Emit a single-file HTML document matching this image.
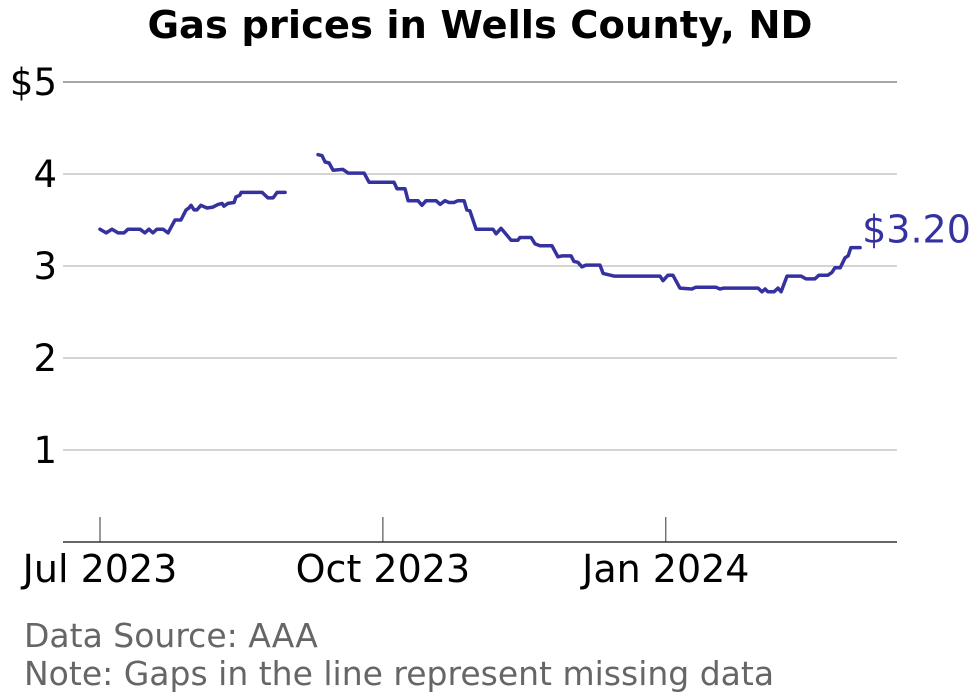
<!DOCTYPE html>
<html><head><meta charset="utf-8"><style>
body{margin:0;background:#fff;}
svg{display:block;font-family:"DejaVu Sans","Liberation Sans",sans-serif;}
</style></head><body>
<svg width="980" height="699" viewBox="0 0 980 699">
<text x="480" y="38" text-anchor="middle" font-size="38.5" font-weight="bold" fill="#000">Gas prices in Wells County, ND</text>
<g id="grid"></g><g id="axes"></g><g id="series"></g>
<text x="24" y="647" font-size="33" fill="#666">Data Source: AAA</text>
<text x="24" y="685" font-size="33" fill="#666">Note: Gaps in the line represent missing data</text>
</svg>
<script>
const yTicks=[1,2,3,4,5];
const yTickLabels=["1","2","3","4","$5"];
const xTickDays=[0,92,184];
const xTickLabels=["Jul 2023","Oct 2023","Jan 2024"];
const days=[0,2.0,3.9,5.9,7.8,9.1,13.0,14.6,15.9,17.2,18.5,20.5,22.1,24.4,26.3,28.0,28.9,29.6,30.6,31.5,32.8,34.8,36.7,38.4,39.7,40.3,41.6,43.6,44.2,45.5,45.9,52.7,54.6,56.3,57.6,60.2,
 65,
 70.9,72.2,73.2,74.5,75.8,79.0,80.7,85.9,87.5,95.6,96.6,99.2,100.2,103.4,104.7,106.0,109.3,110.6,112.2,113.5,115.1,116.4,118.4,119.3,120.3,122.3,127.8,128.8,130.4,133.7,135.9,136.6,140.2,141.5,143.1,147.0,148.9,150.2,153.2,154.1,155.4,156.7,158.0,162.6,163.6,167.2,182.1,183.1,184.7,186.3,188.6,192.5,193.8,200.3,201.6,202.9,214.0,215.3,216.3,217.2,219.2,220.5,221.5,223.4,228.0,229.6,232.5,233.8,236.7,238.0,239.0,240.7,242.3,243.3,244.2,247.2];
const prices=[3.40,3.36,3.40,3.36,3.36,3.40,3.40,3.36,3.40,3.36,3.40,3.40,3.36,3.50,3.50,3.61,3.63,3.66,3.61,3.61,3.66,3.63,3.64,3.67,3.68,3.65,3.68,3.69,3.75,3.77,3.80,3.80,3.74,3.74,3.80,3.80,
 null,
 4.21,4.20,4.13,4.12,4.04,4.05,4.01,4.01,3.91,3.91,3.84,3.84,3.71,3.71,3.66,3.71,3.71,3.67,3.71,3.69,3.69,3.71,3.71,3.61,3.60,3.40,3.40,3.35,3.41,3.28,3.28,3.31,3.31,3.24,3.22,3.22,3.10,3.11,3.11,3.05,3.04,2.99,3.01,3.01,2.92,2.89,2.89,2.84,2.90,2.90,2.76,2.75,2.77,2.77,2.75,2.76,2.76,2.72,2.75,2.72,2.72,2.76,2.72,2.89,2.89,2.86,2.86,2.90,2.90,2.93,2.98,2.98,3.09,3.11,3.20,3.20];
const ns="http://www.w3.org/2000/svg";
const X0=63,X1=897,Y0=542;
const xs=d=>100+d*3.075;
const ys=v=>Y0-v*92;
function mk(tag,attrs,parent,text){const e=document.createElementNS(ns,tag);for(const k in attrs)e.setAttribute(k,attrs[k]);if(text!==undefined)e.textContent=text;parent.appendChild(e);return e;}
const grid=document.getElementById('grid'),axes=document.getElementById('axes'),series=document.getElementById('series');
yTicks.forEach((t,i)=>{
 const l=mk('line',{x1:X0,x2:X1,y1:ys(t),y2:ys(t),stroke:t===5?'#888':'#aaa','stroke-width':t===5?1.5:1},grid);
 
 
 const tx=mk('text',{x:57,y:ys(t)+13,'text-anchor':'end','font-size':37,fill:'#000'},axes,yTickLabels[i]);
 
 
});
const ax=mk('line',{x1:X0,x2:X1,y1:Y0,y2:Y0,stroke:'#333','stroke-width':1.5},axes);


xTickDays.forEach((d,i)=>{
 const tk=mk('line',{x1:xs(d),x2:xs(d),y1:517,y2:Y0,stroke:'#333','stroke-width':1},axes);
 
 
 const tx=mk('text',{x:xs(d),y:582,'text-anchor':'middle','font-size':38,fill:'#000'},axes,xTickLabels[i]);
 
 
});
let segs=[],cur=[];
days.forEach((d,i)=>{if(prices[i]===null){if(cur.length)segs.push(cur);cur=[];}else cur.push([xs(d),ys(prices[i])]);});
if(cur.length)segs.push(cur);
segs.forEach(s=>{
 const p=mk('path',{d:'M'+s.map(q=>q[0].toFixed(1)+','+q[1].toFixed(1)).join('L'),fill:'none',stroke:'#3532a0','stroke-width':3.5,'stroke-linejoin':'round','stroke-linecap':'round'},series);
 
 
});
const lastI=prices.length-1;
const lab=mk('text',{x:xs(days[lastI])+2,y:ys(prices[lastI])-5,'font-size':38,fill:'#3532a0'},series,'$'+prices[lastI].toFixed(2));


</script>
</body></html>
